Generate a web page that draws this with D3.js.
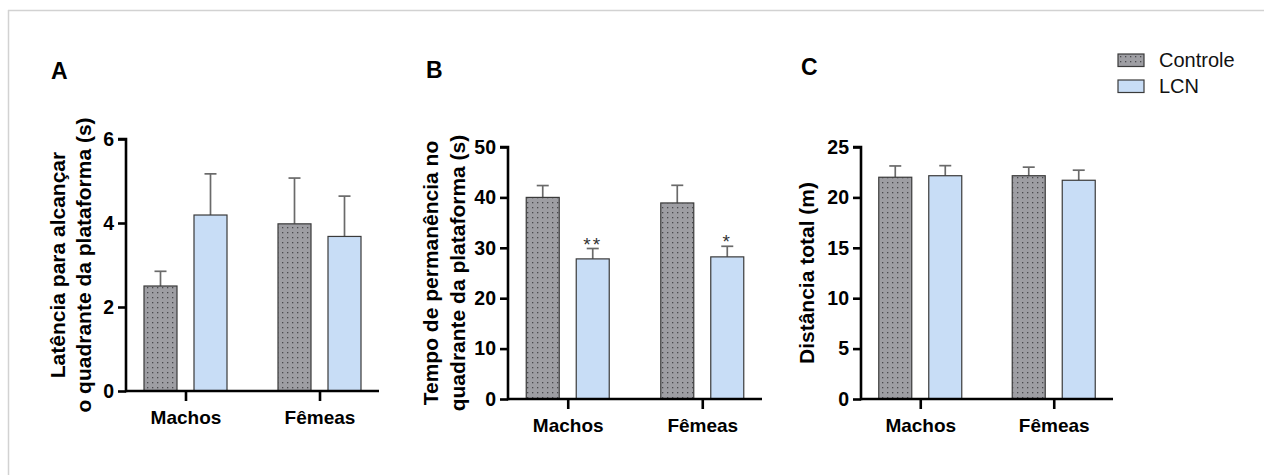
<!DOCTYPE html>
<html>
<head>
<meta charset="utf-8">
<script src="https://cdn.jsdelivr.net/npm/d3@7"></script>
<style>
  body { margin: 0; background: #fff; }
  svg { display: block; font-family: 'Liberation Sans', Arial, sans-serif; }
</style>
</head>
<body>
<div id="chart"></div>
<script>
// data (mean, upper error)
var categories = ['Machos', 'Fêmeas'];
var groups = ['Controle', 'LCN'];

var latencia_controle = [2.5, 3.98];
var latencia_controle_err = [0.35, 1.09];
var latencia_lcn = [4.19, 3.68];
var latencia_lcn_err = [0.98, 0.96];
var latencia_ticks = [0, 2, 4, 6];

var tempo_controle = [40.0, 38.9];
var tempo_controle_err = [2.35, 3.5];
var tempo_lcn = [27.8, 28.2];
var tempo_lcn_err = [2.06, 2.1];
var tempo_stars = ['**', '*'];
var tempo_ticks = [0, 10, 20, 30, 40, 50];

var distancia_controle = [22.0, 22.15];
var distancia_controle_err = [1.12, 0.85];
var distancia_lcn = [22.15, 21.7];
var distancia_lcn_err = [1.0, 1.0];
var distancia_ticks = [0, 5, 10, 15, 20, 25];

var settings = {
  width: 1264,
  height: 475,
  axis_width: 2.6,
  bar_width: 33,
  bar_step: 50,
  controle_fill: '#9e9ea3',
  lcn_fill: '#c8ddf6',
  bar_stroke: '#3a3a3a',
  err_color: '#6a6a6a',
  cap_width: 12,
  tick_font: 19.5,
  cat_font: 19,
  title_font: 21,
  letter_font: 23
};

var panels = [
  {
    letter: 'A', letter_x: 51, letter_y: 79,
    title: ['Latência para alcançar', 'o quadrante da plataforma (s)'], title_x: [65, 91],
    x0: 126, x1: 379, y0: 391, y1: 139,
    ticks: latencia_ticks,
    controle: latencia_controle, controle_err: latencia_controle_err,
    lcn: latencia_lcn, lcn_err: latencia_lcn_err, stars: null
  },
  {
    letter: 'B', letter_x: 426, letter_y: 78,
    title: ['Tempo de permanência no', 'quadrante da plataforma (s)'], title_x: [438, 465],
    x0: 508, x1: 762, y0: 399, y1: 147,
    ticks: tempo_ticks,
    controle: tempo_controle, controle_err: tempo_controle_err,
    lcn: tempo_lcn, lcn_err: tempo_lcn_err, stars: tempo_stars
  },
  {
    letter: 'C', letter_x: 801, letter_y: 75,
    title: ['Distância total (m)'], title_x: [814],
    x0: 861, x1: 1113, y0: 399, y1: 147,
    ticks: distancia_ticks,
    controle: distancia_controle, controle_err: distancia_controle_err,
    lcn: distancia_lcn, lcn_err: distancia_lcn_err, stars: null
  }
];

var svg = d3.select('#chart').append('svg')
  .attr('width', settings.width)
  .attr('height', settings.height);

// dotted pattern for the control bars
var pat = svg.append('defs').append('pattern')
  .attr('id', 'dots')
  .attr('patternUnits', 'userSpaceOnUse')
  .attr('width', 5)
  .attr('height', 5);
pat.append('rect').attr('width', 5).attr('height', 5).attr('fill', settings.controle_fill);
pat.append('rect').attr('x', 2).attr('y', 2).attr('width', 1.3).attr('height', 1.3).attr('fill', '#4a4a4e');

// light frame (only top and left edges are visible)
svg.append('line').attr('x1', 8).attr('x2', settings.width).attr('y1', 10.5).attr('y2', 10.5)
  .attr('stroke', '#d2d2d2').attr('stroke-width', 1.5);
svg.append('line').attr('x1', 8.5).attr('x2', 8.5).attr('y1', 10).attr('y2', settings.height)
  .attr('stroke', '#d2d2d2').attr('stroke-width', 1.5);

panels.forEach(draw_panel);
draw_legend();

/////////////////////////////////////////////////////////////////////////////////////////////////////

function draw_panel(p) {
  var g = svg.append('g');
  var ymax = d3.max(p.ticks);

  var y = d3.scaleLinear().domain([0, ymax]).range([p.y0, p.y1]);
  var x = d3.scalePoint().domain(categories).range([p.x0, p.x1]).padding(0.444);
  var xs = d3.scaleBand().domain(groups)
    .range([-settings.bar_step * 0.83, settings.bar_step * 0.83])
    .paddingInner(1 - settings.bar_width / settings.bar_step)
    .paddingOuter(0);

  var rows = [];
  categories.forEach(function(c, i) {
    rows.push({ cat: c, grp: 'Controle', v: p.controle[i], e: p.controle_err[i], star: '' });
    rows.push({ cat: c, grp: 'LCN', v: p.lcn[i], e: p.lcn_err[i], star: p.stars ? p.stars[i] : '' });
  });

  var bx = function(d) { return x(d.cat) + xs(d.grp); };
  var cx = function(d) { return bx(d) + xs.bandwidth() / 2; };

  // error bars (upper only), drawn behind the bars
  g.selectAll('line.err').data(rows).enter().append('line')
    .attr('class', 'err')
    .attr('x1', cx).attr('x2', cx)
    .attr('y1', function(d) { return y(d.v); })
    .attr('y2', function(d) { return y(d.v + d.e); })
    .attr('stroke', settings.err_color).attr('stroke-width', 1.7);

  g.selectAll('line.cap').data(rows).enter().append('line')
    .attr('class', 'cap')
    .attr('x1', function(d) { return cx(d) - settings.cap_width / 2; })
    .attr('x2', function(d) { return cx(d) + settings.cap_width / 2; })
    .attr('y1', function(d) { return y(d.v + d.e); })
    .attr('y2', function(d) { return y(d.v + d.e); })
    .attr('stroke', settings.err_color).attr('stroke-width', 1.7);

  g.selectAll('rect.bar').data(rows).enter().append('rect')
    .attr('class', 'bar')
    .attr('x', bx)
    .attr('y', function(d) { return y(d.v); })
    .attr('width', xs.bandwidth())
    .attr('height', function(d) { return y(0) - y(d.v); })
    .attr('fill', function(d) { return d.grp === 'Controle' ? 'url(#dots)' : settings.lcn_fill; })
    .attr('stroke', settings.bar_stroke)
    .attr('stroke-width', 1.2);

  g.selectAll('text.star').data(rows.filter(function(d) { return d.star; })).enter().append('text')
    .attr('class', 'star')
    .attr('x', cx)
    .attr('y', function(d) { return y(d.v + d.e) + 2; })
    .attr('text-anchor', 'middle')
    .style('font-size', '19px')
    .style('letter-spacing', '2px')
    .style('fill', '#333')
    .text(function(d) { return d.star; });

  // y axis
  var yAxis = g.append('g')
    .attr('transform', 'translate(' + p.x0 + ',0)')
    .call(d3.axisLeft(y).tickValues(p.ticks).tickSize(8).tickPadding(4).tickFormat(d3.format('d')));
  yAxis.select('.domain').attr('d', 'M0,' + (p.y0 + 1.3) + 'V' + p.y1 + 'H-8');

  // x axis
  var xAxis = g.append('g')
    .attr('transform', 'translate(0,' + p.y0 + ')')
    .call(d3.axisBottom(x).tickSize(10).tickPadding(10));
  xAxis.select('.domain').attr('d', 'M' + p.x0 + ',0H' + p.x1);

  g.selectAll('.domain, .tick line')
    .attr('stroke', '#000')
    .attr('stroke-width', settings.axis_width);
  yAxis.selectAll('.tick text')
    .style('font-size', settings.tick_font + 'px')
    .style('font-weight', 'bold')
    .attr('fill', '#000');
  xAxis.selectAll('.tick text')
    .style('font-size', settings.cat_font + 'px')
    .style('font-weight', 'bold')
    .attr('fill', '#000');

  // axis title (rotated)
  var mid = (p.y0 + p.y1) / 2;
  p.title.forEach(function(t, i) {
    g.append('text')
      .attr('transform', 'translate(' + p.title_x[i] + ',' + mid + ') rotate(-90)')
      .attr('text-anchor', 'middle')
      .style('font-size', settings.title_font + 'px')
      .style('font-weight', 'bold')
      .text(t);
  });

  g.append('text')
    .attr('x', p.letter_x)
    .attr('y', p.letter_y)
    .style('font-size', settings.letter_font + 'px')
    .style('font-weight', 'bold')
    .text(p.letter);
}

function draw_legend() {
  var lg = svg.append('g').attr('transform', 'translate(1118,54)');
  var item = lg.selectAll('g').data(groups).enter().append('g')
    .attr('transform', function(d, i) { return 'translate(0,' + (i * 26) + ')'; });

  item.append('rect')
    .attr('width', 26).attr('height', 12.5)
    .attr('fill', function(d) { return d === 'Controle' ? 'url(#dots)' : settings.lcn_fill; })
    .attr('stroke', settings.bar_stroke).attr('stroke-width', 1.2);

  item.append('text')
    .attr('x', 41)
    .attr('y', 12.5)
    .style('font-size', '20px')
    .style('fill', '#111')
    .text(function(d) { return d; });
}
</script>
</body>
</html>
